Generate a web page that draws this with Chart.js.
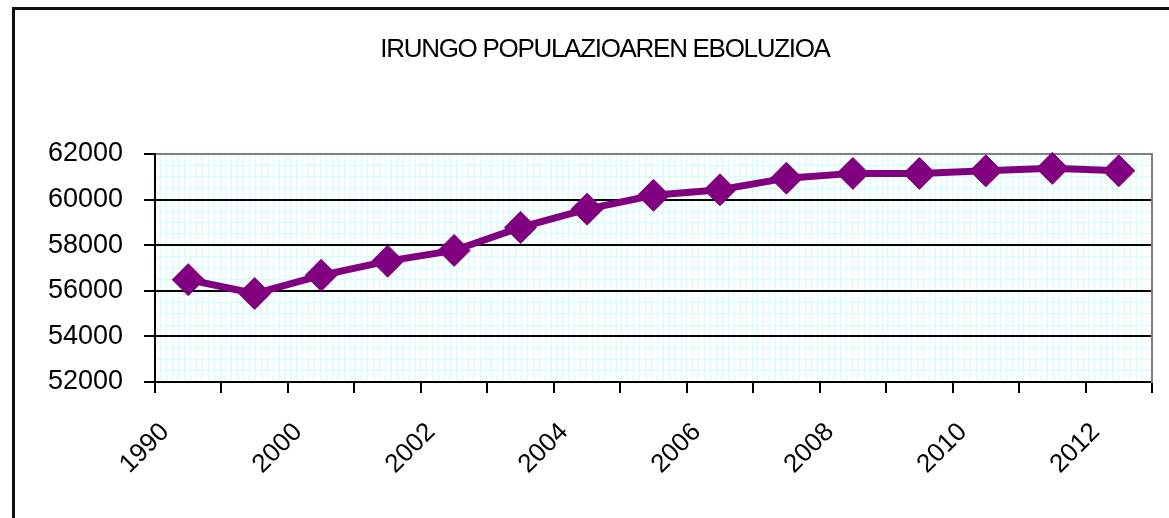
<!DOCTYPE html>
<html>
<head>
<meta charset="utf-8">
<script src="https://cdn.jsdelivr.net/npm/chart.js@4"></script>
<style>
html,body{margin:0;padding:0;background:#fff;overflow:hidden;width:1169px;height:518px}
#wrap{position:relative;width:1169px;height:518px;overflow:hidden}
canvas{position:absolute;left:0;top:0}
#frame{position:absolute;left:12px;top:7px;width:1300px;height:700px;border-left:3px solid #111;border-top:3px solid #111;pointer-events:none}
</style>
</head>
<body>
<div id="wrap"><canvas id="c" width="1169" height="518"></canvas><div id="frame"></div></div>
<script>
const chartTitle = 'IRUNGO POPULAZIOAREN EBOLUZIOA';
const categories = ['1990','1999','2000','2001','2002','2003','2004','2005','2006','2007','2008','2009','2010','2011','2012'];
const population = [56490, 55880, 56680, 57300, 57770, 58780, 59580, 60190, 60430, 60940, 61150, 61150, 61260, 61370, 61260];
const shownLabels = ['1990','2000','2002','2004','2006','2008','2010','2012'];
const yMin = 52000, yMax = 62000, yStep = 2000, yMinorStep = 500;

const FONT = '"Liberation Sans", Arial, sans-serif';

const titlePlugin = {
  id: 'excelTitle',
  afterDraw(chart) {
    const ctx = chart.ctx;
    ctx.save();
    ctx.font = '26px ' + FONT;
    ctx.letterSpacing = '-1.3px';
    ctx.fillStyle = '#000';
    ctx.textAlign = 'center';
    ctx.textBaseline = 'alphabetic';
    ctx.fillText(chartTitle, 605, 57);
    ctx.restore();
  }
};

new Chart(document.getElementById('c'), {
  type: 'line',
  data: {
    labels: categories,
    datasets: [{
      label: 'Populazioa',
      data: population,
      xAxisID: 'x',
      yAxisID: 'y',
      borderColor: '#800080',
      backgroundColor: '#800080',
      borderWidth: 7,
      tension: 0,
      pointStyle: 'rectRot',
      pointRadius: 16,
      pointBorderWidth: 1,
      pointBackgroundColor: '#800080',
      pointBorderColor: '#800080',
      clip: false
    }]
  },
  options: {
    responsive: false,
    animation: false,
    devicePixelRatio: 1,
    layout: { padding: { left: 0, top: 154, right: 2, bottom: 0 } },
    plugins: { legend: { display: false }, tooltip: { enabled: false }, title: { display: false } },
    scales: {
      x: {
        type: 'category',
        position: 'bottom',
        offset: true,
        grid: { offset: true, drawOnChartArea: false, drawTicks: true, tickLength: 11, color: '#000', lineWidth: 2 },
        border: { display: true, color: '#000', width: 2 },
        ticks: {
          autoSkip: false, minRotation: 45, maxRotation: 45, padding: 24, labelOffset: -23,
          color: '#000', font: { family: FONT, size: 26 },
          callback: (v, i) => shownLabels.includes(categories[i]) ? categories[i] : ''
        },
        afterFit: s => { s.height = 136; }
      },
      xMinor: {
        type: 'linear',
        position: 'top',
        min: 0, max: 1012 / 6,
        grid: { color: '#ccffff', lineWidth: 1, drawTicks: false, z: -2 },
        border: { display: true, color: '#808080', width: 2 },
        ticks: { display: false, stepSize: 1, maxTicksLimit: 500 },
        afterFit: s => { s.height = 0; }
      },
      y: {
        type: 'linear',
        position: 'left',
        min: yMin, max: yMax,
        grid: {
          color: c => (c.tick && c.tick.value === yMax) ? '#808080' : '#000',
          tickColor: '#000', lineWidth: 2, tickLength: 11, z: -1
        },
        border: { display: true, color: '#000', width: 2 },
        ticks: { stepSize: yStep, padding: 21, color: '#000', font: { family: FONT, size: 27 }, callback: v => String(v) },
        afterFit: s => { s.width = 155; }
      },
      yMinor: {
        type: 'linear',
        position: 'right',
        min: yMin, max: yMax,
        grid: { color: '#ccffff', lineWidth: 1, drawTicks: false, z: -2 },
        border: { display: true, color: '#808080', width: 2 },
        ticks: { display: false, stepSize: yMinorStep },
        afterFit: s => { s.width = 0; }
      }
    }
  },
  plugins: [titlePlugin]
});
</script>
</body>
</html>
